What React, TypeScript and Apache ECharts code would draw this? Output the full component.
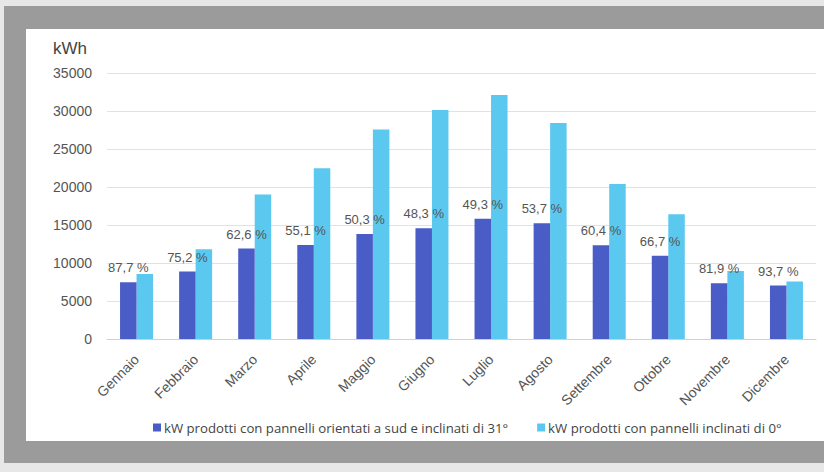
import React, { useEffect, useRef } from "react";
import * as echarts from "echarts";

const months = ["Gennaio", "Febbraio", "Marzo", "Aprile", "Maggio", "Giugno", "Luglio", "Agosto", "Settembre", "Ottobre", "Novembre", "Dicembre"];
const tilted31 = [7480, 8880, 11900, 12380, 13830, 14570, 15830, 15230, 12330, 10960, 7330, 7030];
const flat0 = [8550, 11800, 19000, 22460, 27550, 30130, 32100, 28420, 20400, 16420, 8950, 7550];
const ratioLabels = ["87,7 %", "75,2 %", "62,6 %", "55,1 %", "50,3 %", "48,3 %", "49,3 %", "53,7 %", "60,4 %", "66,7 %", "81,9 %", "93,7 %"];
const seriesNames = ["kW prodotti con pannelli orientati a sud e inclinati di 31°", "kW prodotti con pannelli inclinati di 0°"];
const yUnit = "kWh";

export default function App() {
  const ref = useRef<HTMLDivElement>(null);
  useEffect(() => {
    if (!ref.current) return;
    const chart = echarts.init(ref.current, null, { renderer: "svg" });
    const font = "'Liberation Sans', Arial, sans-serif";
    chart.setOption({
      animation: false,
      backgroundColor: "#e7e7e7",
      textStyle: { fontFamily: font },
      graphic: {
        elements: [
          { type: "rect", z: -100, shape: { x: 4, y: 6, width: 820, height: 457 }, style: { fill: "#9b9b9b" } },
          { type: "rect", z: -99, shape: { x: 26, y: 29, width: 798, height: 412 }, style: { fill: "#ffffff" } },
          { type: "text", z: 10, x: 53, y: 48, style: { text: yUnit, fontSize: 17, fill: "#444", fontFamily: font, verticalAlign: "middle" } },
        ],
      },
      grid: { left: 107, right: 8, top: 73, bottom: 133, containLabel: false },
      legend: {
        left: 148,
        top: 416,
        itemWidth: 8,
        itemHeight: 8,
        itemGap: 29,
        icon: "rect",
        textStyle: { fontFamily: "'Open Sans', sans-serif", fontSize: 13.2, color: "#444", padding: [0, 0, 0, -2] },
        data: seriesNames,
      },
      xAxis: {
        type: "category",
        data: months,
        axisTick: { show: false },
        axisLine: { lineStyle: { color: "#d0d0d0" } },
        axisLabel: { rotate: 45, fontSize: 14, color: "#555", margin: 18, interval: 0 },
      },
      yAxis: {
        type: "value",
        min: 0,
        max: 35000,
        interval: 5000,
        axisLabel: { fontSize: 14, color: "#555", margin: 15, formatter: (v: number) => String(v) },
        splitLine: { lineStyle: { color: "#e2e2e2" } },
      },
      series: [
        {
          name: seriesNames[0],
          type: "bar",
          data: tilted31,
          barWidth: 16.5,
          barGap: "0%",
          itemStyle: { color: "#4a5dc6" },
          label: {
            show: true,
            position: "top",
            distance: 8,
            fontSize: 13,
            color: "#555",
            formatter: (p: any) => ratioLabels[p.dataIndex],
          },
          z: 3,
        },
        {
          name: seriesNames[1],
          type: "bar",
          data: flat0,
          barWidth: 16.5,
          barGap: "0%",
          itemStyle: { color: "#5bc8ef" },
          z: 2,
        },
      ],
    });
    return () => chart.dispose();
  }, []);
  return <div ref={ref} style={{ position: "fixed", left: 0, top: 0, width: 824, height: 472 }} />;
}
